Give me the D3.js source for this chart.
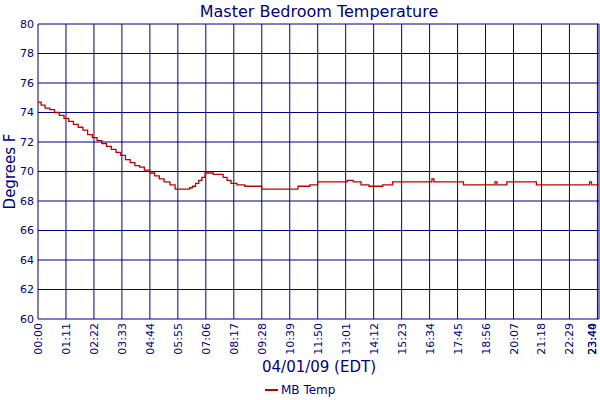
<!DOCTYPE html>
<html><head><meta charset="utf-8">
<script src="https://cdn.jsdelivr.net/npm/d3@7"></script>
<style>body{margin:0;background:#fff}</style>
</head><body><div id="chart"></div>
<script>
// minutes after midnight / temperature F
const times = [0,8,18,30,42,54,66,78,90,102,114,126,138,150,162,174,186,198,210,222,234,246,258,270,284,296,308,320,335,348,385,392,400,408,416,424,445,470,480,490,505,525,568,660,690,710,720,785,800,820,840,875,900,925,950,1000,1005,1080,1090,1160,1165,1175,1190,1210,1265,1400,1405,1424];
const temps = [74.7,74.5,74.3,74.2,74.0,73.8,73.6,73.4,73.2,73.0,72.8,72.5,72.3,72.1,71.9,71.7,71.5,71.3,71.1,70.8,70.6,70.4,70.3,70.1,69.9,69.7,69.5,69.3,69.1,68.8,68.9,69.0,69.2,69.4,69.6,69.9,69.8,69.6,69.4,69.2,69.1,69.0,68.8,69.0,69.1,69.3,69.3,69.4,69.3,69.1,69.0,69.1,69.3,69.3,69.3,69.5,69.3,69.1,69.1,69.3,69.1,69.1,69.3,69.3,69.1,69.3,69.1,69.1];
const tickMins = [0,71,142,213,284,355,426,497,568,639,710,781,852,923,994,1065,1136,1207,1278,1349,1420,1424];
const yTicks = [60,62,64,66,68,70,72,74,76,78,80];

const W = 600, H = 400, m = {top: 24, right: 0, bottom: 81, left: 38};
const navy = "#000080";
const svg = d3.select("#chart").append("svg").attr("width", W).attr("height", H)
    .style("font-family", "Verdana, 'DejaVu Sans', sans-serif");

const x = d3.scaleLinear().domain([0, 1424]).range([m.left, W - 1]);
const y = d3.scaleLinear().domain([60, 80]).range([H - m.bottom, m.top]);
const fmt = v => d3.format("02")(Math.floor(v / 60)) + ":" + d3.format("02")(v % 60);

// grid
svg.append("g").selectAll("line").data(yTicks).join("line")
    .attr("x1", m.left).attr("x2", W - 1).attr("y1", d => y(d)).attr("y2", d => y(d))
    .attr("stroke", navy);
svg.append("g").selectAll("line").data(tickMins).join("line")
    .attr("x1", d => x(d)).attr("x2", d => x(d)).attr("y1", m.top).attr("y2", H - m.bottom)
    .attr("stroke", navy);

svg.append("g").selectAll("text").data(yTicks).join("text")
    .attr("x", m.left - 4).attr("y", d => y(d)).attr("dy", "0.35em")
    .attr("text-anchor", "end").attr("font-size", 11).attr("fill", navy).text(d => d);
svg.append("g").selectAll("text").data(tickMins).join("text")
    .attr("transform", d => `translate(${Math.min(x(d) + 4, 596)},${H - m.bottom + 4}) rotate(-90)`)
    .attr("text-anchor", "end").attr("font-size", 11).attr("fill", navy).text(fmt);

const line = d3.line().x((d, i) => x(times[i])).y(d => y(d)).curve(d3.curveStepAfter);
svg.append("path").attr("d", line(temps)).attr("fill", "none")
    .attr("stroke", "#c00000").attr("stroke-width", 1.3);

svg.append("text").attr("x", 319).attr("y", 17).attr("text-anchor", "middle")
    .attr("font-size", 16).attr("fill", navy).text("Master Bedroom Temperature");
svg.append("text").attr("transform", `translate(15,${(m.top + H - m.bottom) / 2}) rotate(-90)`)
    .attr("text-anchor", "middle").attr("font-size", 15).attr("fill", navy).text("Degrees F");
svg.append("text").attr("x", 319).attr("y", 372).attr("text-anchor", "middle")
    .attr("font-size", 15).attr("fill", navy).text("04/01/09 (EDT)");
svg.append("line").attr("x1", 265).attr("x2", 278).attr("y1", 390).attr("y2", 390)
    .attr("stroke", "#c00000").attr("stroke-width", 2);
svg.append("text").attr("x", 281).attr("y", 394).attr("font-size", 12).attr("fill", navy).text("MB Temp");
</script></body></html>
